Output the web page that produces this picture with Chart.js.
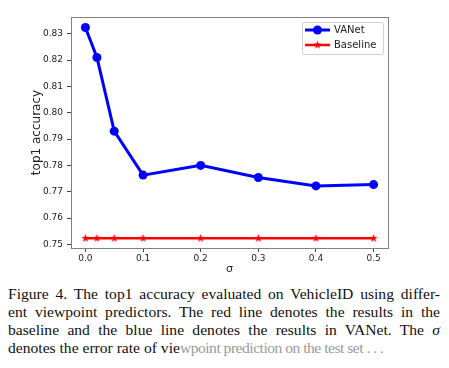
<!DOCTYPE html>
<html>
<head>
<meta charset="utf-8">
<script src="https://cdn.jsdelivr.net/npm/chart.js@4"></script>
<style>
  body { margin: 0; background: #fff; }
  #wrap { position: relative; width: 449px; height: 280px; }
  #cap { position: absolute; left: 8px; top: 285px; width: 432px; font: 15.6px "Liberation Serif", "Times New Roman", serif; line-height: 18px; color: #111; }
  #cap div { text-align: justify; text-align-last: justify; white-space: nowrap; }
  #cap div.last { text-align-last: left; }
  #cap .faded { color: #9a9a9a; letter-spacing: -0.5px; }
</style>
</head>
<body>
<div id="wrap"><canvas id="chart" width="449" height="280"></canvas></div>
<div id="cap">
  <div>Figure 4. The top1 accuracy evaluated on VehicleID using differ-</div>
  <div>ent viewpoint predictors. The red line denotes the results in the</div>
  <div>baseline and the blue line denotes the results in VANet. The <i>σ</i></div>
  <div class="last">denotes the error rate of vie<span class="faded">wpoint prediction on the test set . . .</span></div>
</div>
<script>
const sigma = [0, 0.02, 0.05, 0.1, 0.2, 0.3, 0.4, 0.5];
const vanet = [0.8324, 0.8210, 0.7930, 0.7763, 0.7800, 0.7754, 0.7722, 0.7727];
const baseline = [0.7523, 0.7523, 0.7523, 0.7523, 0.7523, 0.7523, 0.7523, 0.7523];
const xTicks = [0, 0.1, 0.2, 0.3, 0.4, 0.5];
const yTicks = [0.75, 0.76, 0.77, 0.78, 0.79, 0.80, 0.81, 0.82, 0.83];

function starImage(r, color) {
    const c = document.createElement('canvas');
    const s = Math.ceil(r * 2 + 2);
    c.width = c.height = s;
    const g = c.getContext('2d');
    g.beginPath();
    for (let i = 0; i < 10; i++) {
        const rad = i % 2 ? r * 0.42 : r;
        const a = -Math.PI / 2 + i * Math.PI / 5;
        g.lineTo(s / 2 + rad * Math.cos(a), s / 2 + rad * Math.sin(a));
    }
    g.closePath();
    g.fillStyle = color;
    g.fill();
    return c;
}
const star = starImage(4.2, '#ff0000');

// box round the plot area, like matplotlib spines
const frame = {
    id: 'frame',
    afterDatasetsDraw(chart) {
        const { ctx, chartArea: a } = chart;
        ctx.save();
        ctx.strokeStyle = '#808080';
        ctx.lineWidth = 1;
        ctx.strokeRect(a.left + 0.5, a.top + 0.5, a.right - a.left, a.bottom - a.top);
        ctx.restore();
    }
};

// matplotlib style legend: line with marker through it
const mplLegend = {
    id: 'mplLegend',
    afterDraw(chart) {
        const ctx = chart.ctx;
        const x0 = 302, y0 = 22, w = 81, h = 32;
        ctx.save();
        ctx.fillStyle = 'rgba(255,255,255,0.9)';
        ctx.strokeStyle = '#d0d0d0';
        ctx.lineWidth = 1;
        ctx.beginPath();
        ctx.roundRect(x0 + 0.5, y0 + 0.5, w, h, 2);
        ctx.fill();
        ctx.stroke();
        chart.data.datasets.forEach((ds, i) => {
            const y = 30 + i * 15;
            ctx.strokeStyle = ds.borderColor;
            ctx.lineWidth = ds.borderWidth;
            ctx.beginPath();
            ctx.moveTo(305, y);
            ctx.lineTo(330, y);
            ctx.stroke();
            if (ds.pointStyle === 'circle') {
                ctx.fillStyle = ds.pointBackgroundColor;
                ctx.beginPath();
                ctx.arc(317.5, y, ds.pointRadius, 0, Math.PI * 2);
                ctx.fill();
            } else {
                ctx.drawImage(ds.pointStyle, 317.5 - ds.pointStyle.width / 2, y - ds.pointStyle.height / 2);
            }
            ctx.fillStyle = '#222';
            ctx.font = '10px "DejaVu Sans"';
            ctx.textBaseline = 'middle';
            ctx.fillText(ds.label, 334, y + 0.5);
        });
        ctx.restore();
    }
};

new Chart(document.getElementById('chart'), {
    type: 'line',
    data: {
        datasets: [{
            label: 'VANet',
            data: sigma.map((s, i) => ({ x: s, y: vanet[i] })),
            borderColor: '#0000ff',
            borderWidth: 3,
            pointStyle: 'circle',
            pointRadius: 4.5,
            pointBackgroundColor: '#0000ff',
            pointBorderWidth: 0,
            tension: 0
        }, {
            label: 'Baseline',
            data: sigma.map((s, i) => ({ x: s, y: baseline[i] })),
            borderColor: '#ff0000',
            borderWidth: 2.5,
            pointStyle: star,
            pointRadius: 4.2,
            pointBorderWidth: 0,
            tension: 0
        }]
    },
    options: {
        responsive: false,
        animation: false,
        events: [],
        layout: { padding: { top: 17, right: 61, bottom: 0, left: 0 } },
        plugins: { legend: { display: false }, tooltip: { enabled: false } },
        scales: {
            x: {
                type: 'linear',
                min: -0.025,
                max: 0.525,
                afterBuildTicks: (s) => { s.ticks = xTicks.map(v => ({ value: v })); },
                afterFit: (s) => { s.height = 32; },
                ticks: {
                    callback: (v) => v.toFixed(1),
                    color: '#222',
                    font: { family: 'DejaVu Sans', size: 9 },
                    padding: 1,
                    maxRotation: 0
                },
                grid: { drawOnChartArea: false, tickLength: 4, color: '#444' },
                border: { display: false },
                title: {
                    display: true,
                    text: 'σ',
                    color: '#222',
                    font: { family: 'DejaVu Sans', size: 11 },
                    padding: { top: 0, bottom: 4 }
                }
            },
            y: {
                min: 0.7486,
                max: 0.8364,
                afterBuildTicks: (s) => { s.ticks = yTicks.map(v => ({ value: v })); },
                afterFit: (s) => { s.width = 71; },
                ticks: {
                    callback: (v) => v.toFixed(2),
                    color: '#222',
                    font: { family: 'DejaVu Sans', size: 9 },
                    padding: 4
                },
                grid: { drawOnChartArea: false, tickLength: 4, color: '#444' },
                border: { display: false },
                title: {
                    display: true,
                    text: 'top1 accuracy',
                    color: '#222',
                    font: { family: 'DejaVu Sans', size: 12 },
                    padding: { top: 30, bottom: 0 }
                }
            }
        }
    },
    plugins: [frame, mplLegend]
});
</script>
</body>
</html>
